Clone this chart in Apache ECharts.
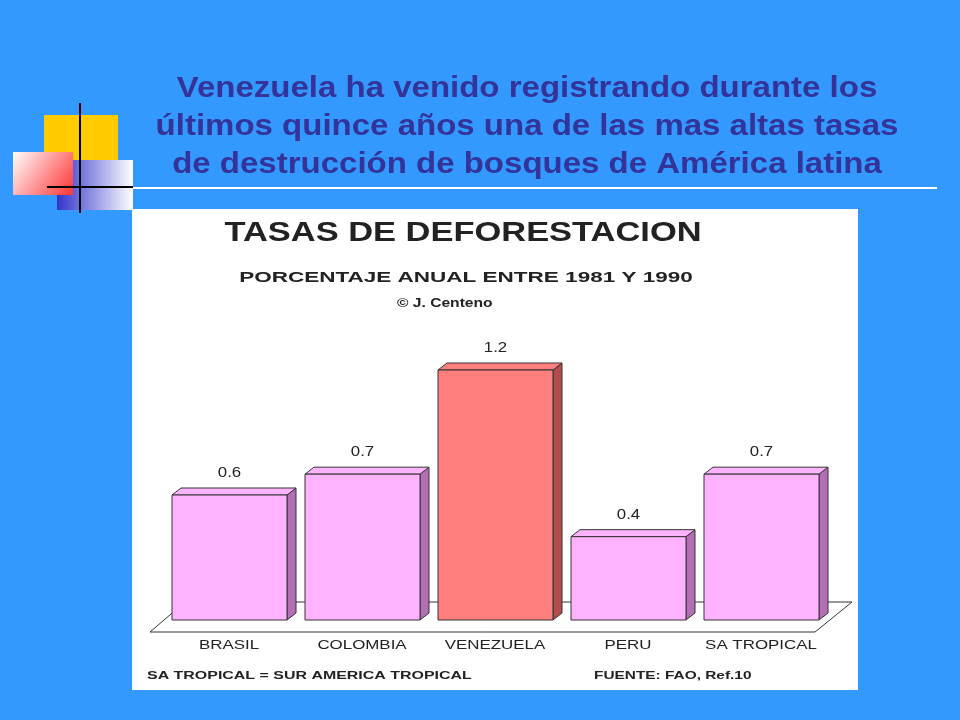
<!DOCTYPE html>
<html><head><meta charset="utf-8">
<script src="https://cdn.jsdelivr.net/npm/echarts@6/dist/echarts.min.js"></script>
<style>html,body{margin:0;padding:0;background:#3399FF}#ChartMain{width:960px;height:720px}</style>
</head><body><div id="ChartMain"></div>
<script>
var categories = ['BRASIL', 'COLOMBIA', 'VENEZUELA', 'PERU', 'SA TROPICAL'];
var values = [0.6, 0.7, 1.2, 0.4, 0.7];
var valueLabels = ['0.6', '0.7', '1.2', '0.4', '0.7'];
var frontColors = ['#FFB3FF', '#FFB3FF', '#FF7F7F', '#FFB3FF', '#FFB3FF'];
var sideColors = ['#B36FB3', '#B36FB3', '#B34C4C', '#B36FB3', '#B36FB3'];

var chart = echarts.init(document.getElementById('ChartMain'));
var sans = 'Liberation Sans, Arial, sans-serif';

function renderBar(params, api) {
    var i = api.value(0);
    var top = api.coord([i, api.value(1)]);
    var base = api.coord([i, 0]);
    var band = api.size([1, 0])[0];
    var w = 115, dx = 9, dy = -7;
    var x0 = top[0] - band / 2 + 9, x1 = x0 + w;
    var st = {stroke: '#333', lineWidth: 1};
    return {
        type: 'group',
        children: [
            {type: 'polygon', shape: {points: [[x1, top[1]], [x1 + dx, top[1] + dy], [x1 + dx, base[1] + dy], [x1, base[1]]]},
             style: Object.assign({fill: sideColors[i]}, st)},
            {type: 'polygon', shape: {points: [[x0, top[1]], [x0 + dx, top[1] + dy], [x1 + dx, top[1] + dy], [x1, top[1]]]},
             style: Object.assign({fill: frontColors[i]}, st)},
            {type: 'rect', shape: {x: x0, y: top[1], width: w, height: base[1] - top[1]},
             style: Object.assign({fill: frontColors[i]}, st)},
            {type: 'text', x: x0 + w / 2, y: top[1] - 22, scaleX: 1.2,
             style: {text: valueLabels[i], fill: '#222', font: '14px ' + sans, align: 'center', verticalAlign: 'middle'}}
        ]
    };
}

function txt(x, y, s, font, scaleX, align) {
    return {type: 'text', z: 5, x: x, y: y, scaleX: scaleX,
        style: {text: s, fill: '#222', font: font, align: align || 'left', verticalAlign: 'middle'}};
}

var option = {
    backgroundColor: '#3399FF',
    animation: false,
    grid: {left: 163, right: 132, top: 370, bottom: 100},
    xAxis: {type: 'category', data: categories, show: false},
    yAxis: {type: 'value', min: 0, max: 1.2, show: false},
    graphic: [
        {type: 'text', x: 527, y: 70, scaleX: 1.1, style: {
            text: 'Venezuela ha venido registrando durante los\nxltimos quince años una de las mas altas tasas\nde destrucción de bosques de América latina'.replace('xltimos', 'últimos'),
            fill: '#333399', font: 'bold 30px ' + sans, align: 'center', lineHeight: 38}},
        {type: 'rect', z: 1, shape: {x: 44, y: 115, width: 74, height: 75}, style: {fill: '#FFCC00'}},
        {type: 'rect', z: 2, shape: {x: 57, y: 160, width: 76, height: 50}, style: {fill: new echarts.graphic.LinearGradient(0, 0, 1, 0, [{offset: 0, color: '#3333CC'}, {offset: 1, color: '#FFFFFF'}])}},
        {type: 'rect', z: 3, shape: {x: 13, y: 152, width: 60, height: 43}, style: {fill: new echarts.graphic.LinearGradient(0, 0, 1, 1, [{offset: 0, color: '#FFFFFF'}, {offset: 1, color: '#FF3333'}])}},
        {type: 'line', z: 4, shape: {x1: 80, y1: 103, x2: 80, y2: 213}, style: {stroke: '#000', lineWidth: 2}},
        {type: 'line', z: 4, shape: {x1: 47, y1: 187, x2: 133, y2: 187}, style: {stroke: '#000', lineWidth: 2}},
        {type: 'line', z: 4, shape: {x1: 133, y1: 188, x2: 937, y2: 188}, style: {stroke: '#FFFFFF', lineWidth: 2}},
        {type: 'rect', z: -1, shape: {x: 132, y: 209, width: 726, height: 481}, style: {fill: '#FFFFFF'}},
        {type: 'polygon', z: 0, shape: {points: [[150, 632], [815, 632], [852, 602], [185, 602]]}, style: {fill: '#FFFFFF', stroke: '#333', lineWidth: 1}},
        txt(463, 233, 'TASAS DE DEFORESTACION', 'bold 28px ' + sans, 1.23, 'center'),
        txt(466, 278, 'PORCENTAJE ANUAL ENTRE 1981 Y 1990', 'bold 15px ' + sans, 1.5, 'center'),
        txt(397, 304, '© J. Centeno', 'bold 12px ' + sans, 1.3),
        txt(147, 676, 'SA TROPICAL = SUR AMERICA TROPICAL', 'bold 11px ' + sans, 1.45),
        txt(594, 676, 'FUENTE: FAO, Ref.10', 'bold 11px ' + sans, 1.4)
    ].concat(categories.map(function (c, i) {
        return txt(229 + i * 133, 645, c, '13px ' + sans, 1.3, 'center');
    })),
    series: [{
        type: 'custom',
        z: 3,
        renderItem: renderBar,
        data: values.map(function (v, i) { return [i, v]; })
    }]
};
chart.setOption(option);
</script>
</body></html>
